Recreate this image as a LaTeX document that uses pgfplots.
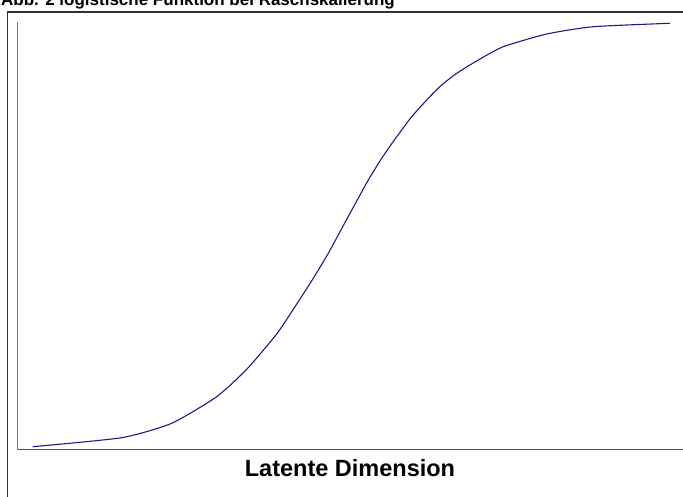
\documentclass[border=0pt]{standalone}
\usepackage{pgfplots}
\pgfplotsset{compat=1.18}
\usepackage{fontspec}
\setmainfont{Liberation Sans}
\definecolor{curve}{HTML}{1C1C8A}
\definecolor{frame}{HTML}{333333}
\definecolor{ylinec}{HTML}{7A7A7A}
\definecolor{xlinec}{HTML}{555555}
\begin{document}
\begin{tikzpicture}[x=1pt,y=1pt]
\draw[frame, line width=1.4pt] (7.5,-20) -- (7.5,484) -- (720,484);
\begin{axis}[
  x=1pt, y=1pt,
  anchor=south west, at={(17.5pt,46.5pt)},
  xmin=17.5, xmax=700, ymin=46.5, ymax=474,
  axis x line=bottom, axis y line=left,
  axis line style={-},
  x axis line style={xlinec, line width=1.6pt},
  y axis line style={ylinec, line width=1.6pt},
  xtick=\empty, ytick=\empty,
  clip=false,
]
\addplot[curve, line width=1.1pt, smooth, tension=0.35] coordinates {
(32.7,49.3) (121.7,58.3) (171.7,72.7) (216.7,99.3)
(246.7,126.7) (276.7,162) (295,189.3) (313.3,217.7) (328.3,242.7)
(340,264.3) (350,282.7) (360,301) (368.3,316) (381.7,337.7) (396.7,359.3)
(411.7,379.3) (428.3,397.7) (441.7,411) (456.7,422.7) (478.3,436) (503.3,449.3)
(546.7,462) (593.3,469.3) (670,472.7)
};
\end{axis}
\node[anchor=base west, inner sep=0pt, font=\fontsize{17}{20}\selectfont\bfseries] at (1,490) {Abb. 2 logistische Funktion bei Raschskalierung};
\node[anchor=base, inner sep=0pt, font=\fontsize{23.5}{28}\selectfont\bfseries] at (350,20) {Latente Dimension};
\pgfresetboundingbox
\path[use as bounding box] (0,0) rectangle (683,496);
\end{tikzpicture}
\end{document}
